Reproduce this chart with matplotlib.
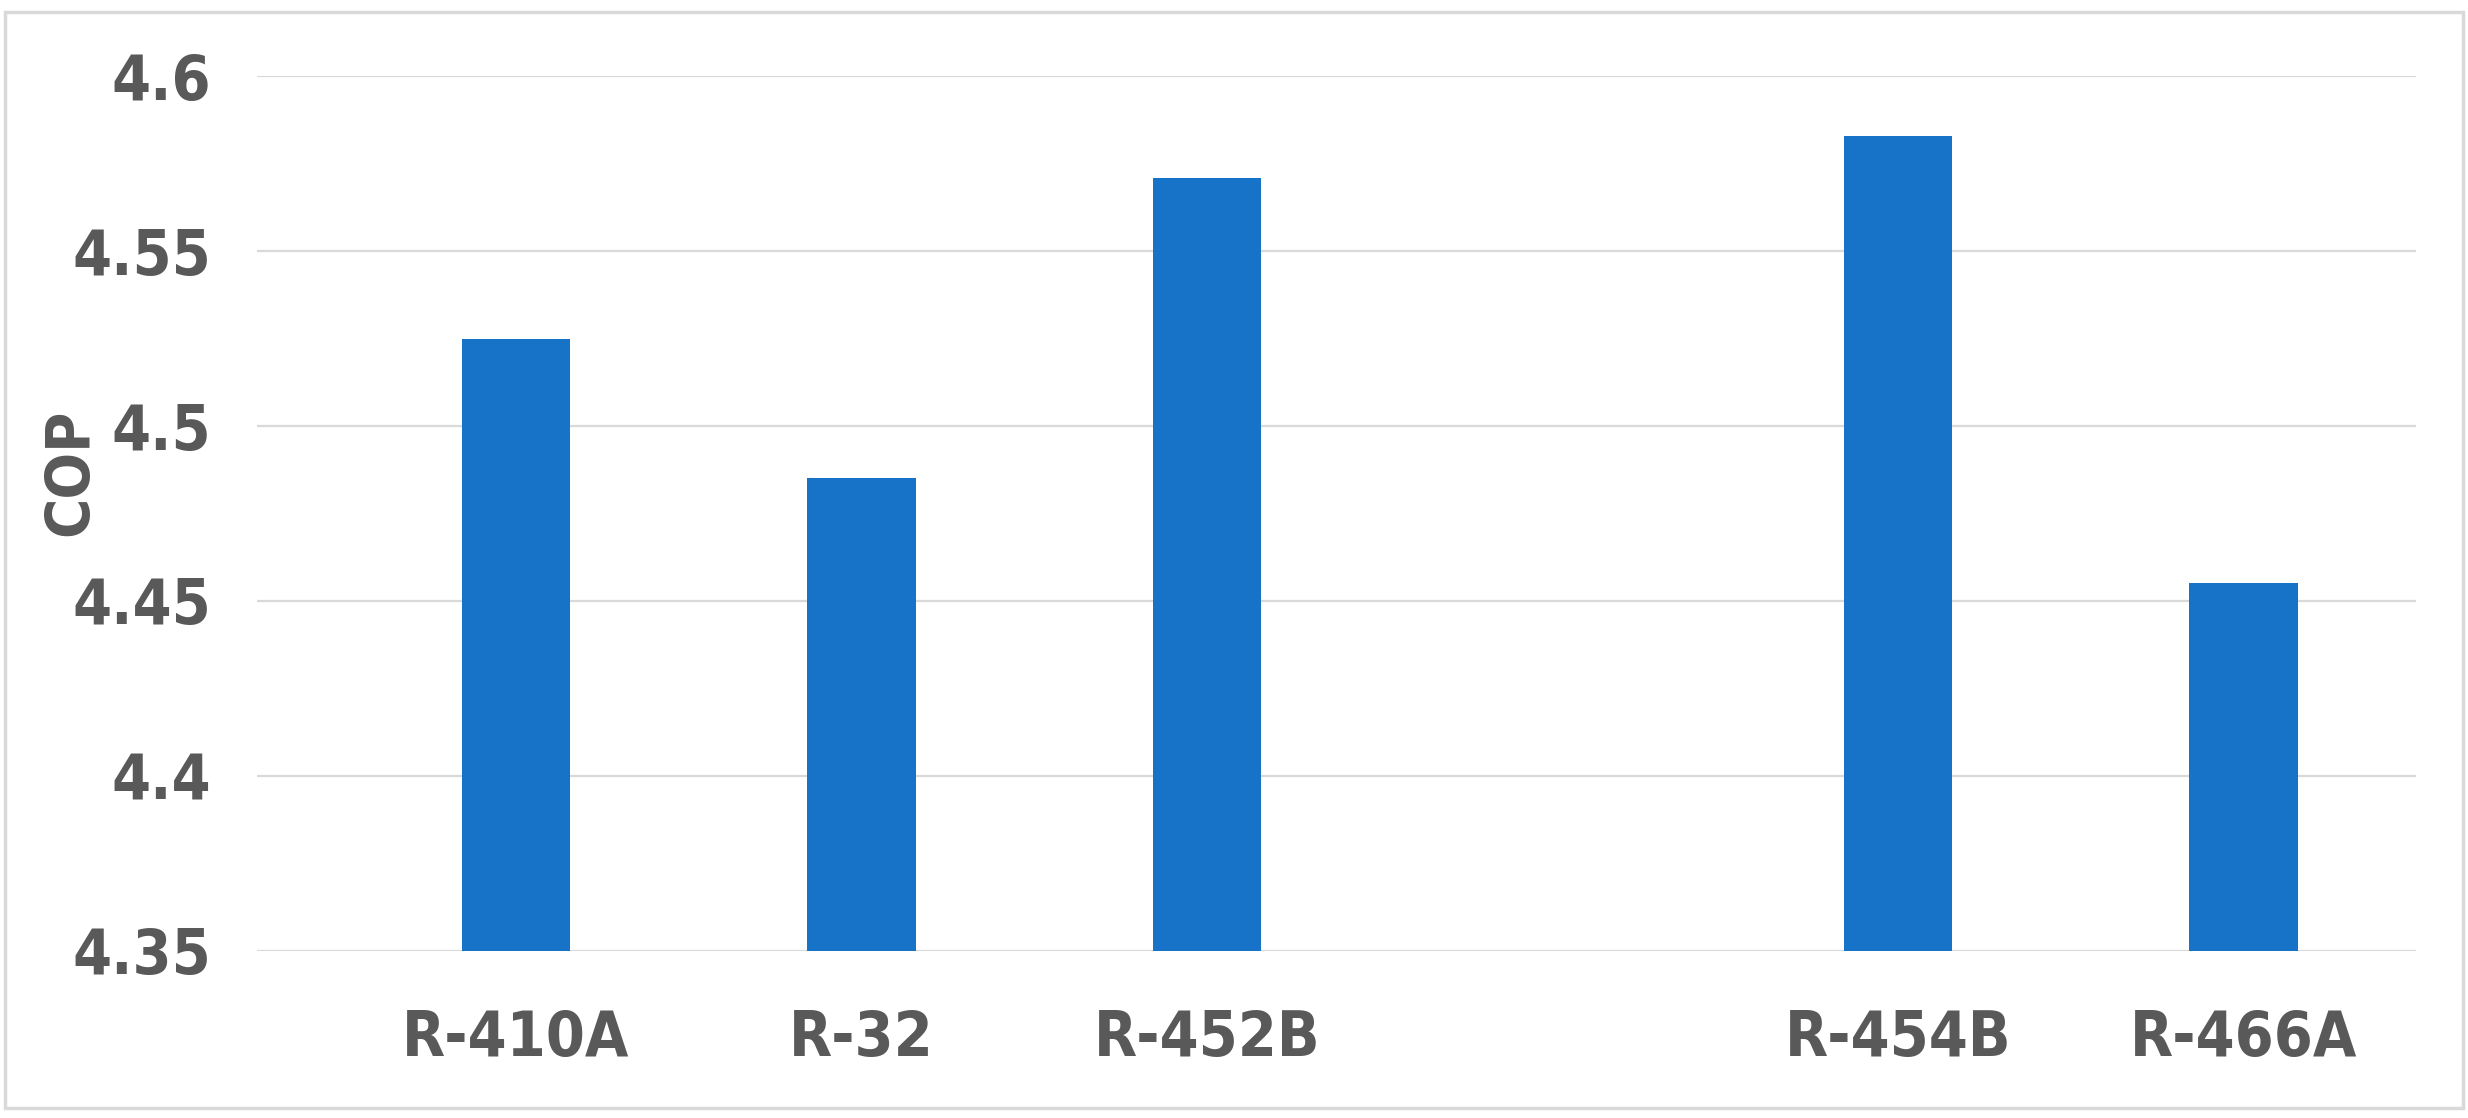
import matplotlib.pyplot as plt
from matplotlib.patches import Rectangle

# refrigerants (slot 4 is left empty in the original chart)
refrigerants = ["R-410A", "R-32", "R-452B", "", "R-454B", "R-466A"]
cop = [4.525, 4.485, 4.571, None, 4.583, 4.455]
yticks = [4.35, 4.4, 4.45, 4.5, 4.55, 4.6]

plt.rcParams['font.family'] = ['DejaVu Sans']
plt.rcParams['font.stretch'] = 'condensed'
text_color = "#595959"

fig = plt.figure(figsize=(24.68, 11.18), dpi=100)
ax = fig.add_axes([0.1041, 0.1494, 0.979 - 0.1041, 0.932 - 0.1494])

xs = [i for i, v in enumerate(cop) if v is not None]
vals = [v for v in cop if v is not None]
base = yticks[0]
ax.bar(xs, [v - base for v in vals], bottom=base, width=0.315, color="#1773C8", zorder=3)

ax.set_xlim(-0.75, 5.5)
ax.set_ylim(4.35, 4.6)
ax.set_yticks(yticks)
ax.set_yticklabels([f"{t:g}" for t in yticks])
ax.set_xticks(range(len(refrigerants)))
ax.set_xticklabels(refrigerants)

ax.grid(axis="y", color="#d9d9d9", linewidth=1.6, zorder=0)
for s in ax.spines.values():
    s.set_visible(False)
ax.tick_params(axis="both", length=0, colors=text_color, labelsize=45)
ax.tick_params(axis="x", pad=42)
ax.tick_params(axis="y", pad=33)
for lbl in ax.get_xticklabels() + ax.get_yticklabels():
    lbl.set_fontweight("bold")

ax.set_ylabel("COP", fontsize=44, fontweight="bold", color=text_color)
ax.yaxis.set_label_coords(-0.0725, 0.547)

# light outer frame
fig.patches.append(Rectangle((5 / 2468, 10 / 1118), 2458 / 2468, 1096 / 1118,
                             transform=fig.transFigure, fill=False,
                             edgecolor="#d9d9d9", linewidth=2.5))

fig.savefig("out.png", dpi=100)
